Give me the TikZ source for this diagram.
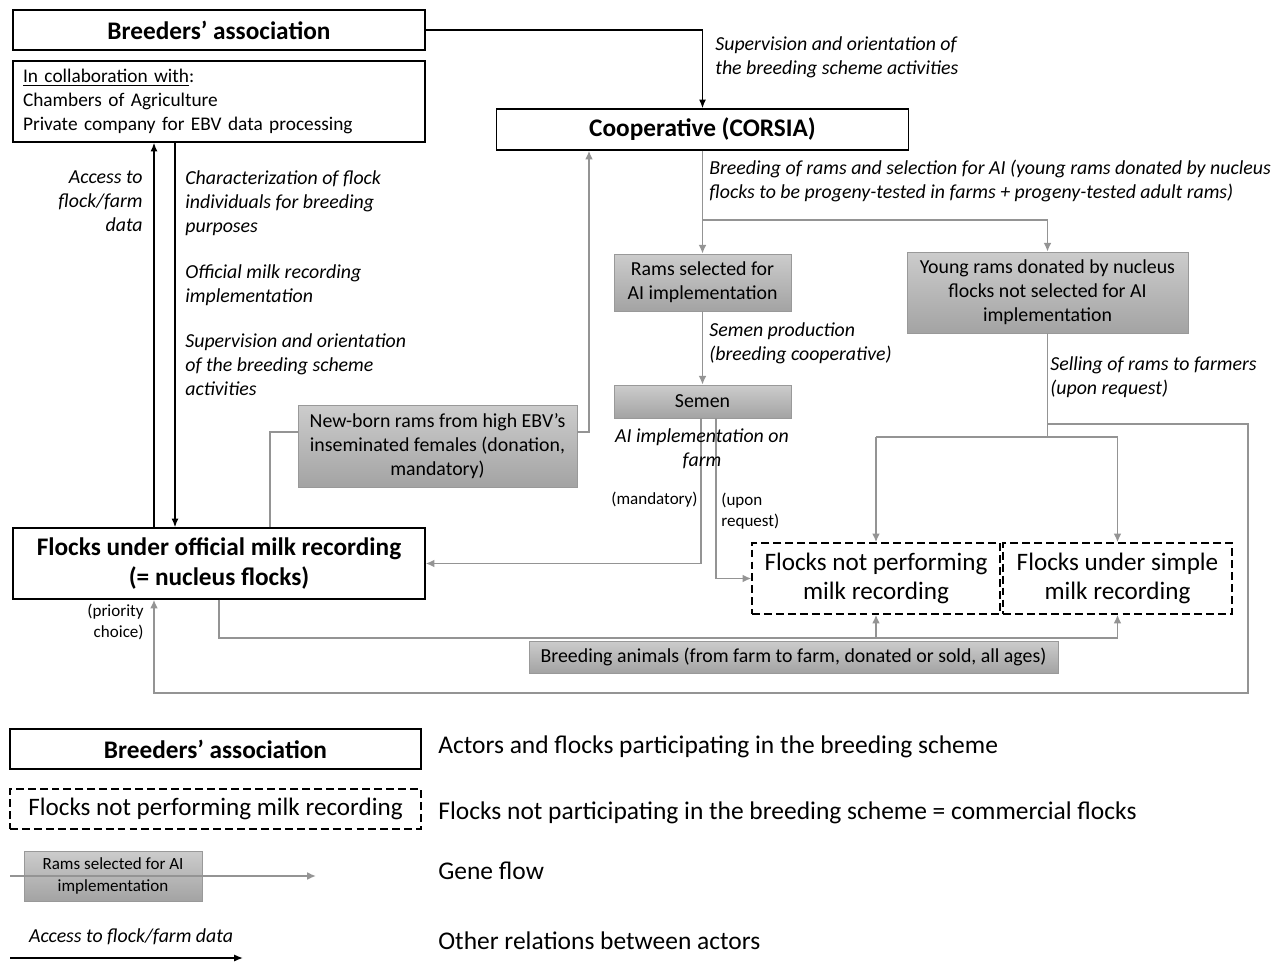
\documentclass[tikz,border=0pt]{standalone}
\usepackage{fontspec}
\setmainfont{Carlito}
\usetikzlibrary{arrows.meta}

\tikzset{
  actor/.style={draw, line width=0.8pt, align=center, inner sep=0pt, font=\fontsize{14.4}{17}\selectfont\bfseries},
  comflock/.style={draw, line width=0.8pt, dash pattern=on 4.5pt off 2.3pt, align=center, inner sep=0pt, font=\fontsize{14.3}{16.4}\selectfont},
  genebox/.style={draw=black!40, top color=black!20, bottom color=black!36, align=center, inner sep=0pt, font=\fontsize{11.3}{13.6}\selectfont},
  gene/.style={draw=black!42, line width=1.1pt, -{Latex[length=5pt,width=4.5pt]}},
  rel/.style={draw=black, line width=0.8pt, -{Latex[length=5pt,width=4pt]}},
  lbl/.style={font=\fontsize{11.3}{13.6}\selectfont\itshape, inner sep=0pt},
  note/.style={font=\fontsize{9.7}{12}\selectfont, inner sep=0pt},
  legtxt/.style={font=\fontsize{14.5}{16}\selectfont, inner sep=0pt, anchor=west}
}

\begin{document}
\begin{tikzpicture}[x=0.02cm,y=-0.02cm]
\useasboundingbox (0,0) rectangle (1277,962);

\draw (219,30) node[actor, minimum width=8.24cm, minimum height=0.8cm] (ba) {Breeders’ association};
\draw (219,101.5) node[draw, line width=0.8pt, text width=7.84cm, inner xsep=0.2cm, inner ysep=0pt, minimum height=1.62cm, align=left, font=\fontsize{11}{13.6}\selectfont] (collab) {\underline{In collaboration with}:\\Chambers of Agriculture\\Private company for EBV data processing};
\draw (702.5,129.5) node[actor, minimum width=8.24cm, minimum height=0.82cm] (coop) {Cooperative (CORSIA)};
\draw (219,563.5) node[actor, minimum width=8.24cm, minimum height=1.42cm] (flocks) {Flocks under official milk recording\\(= nucleus flocks)};

\draw (702.5,282.5) node[genebox, minimum width=3.54cm, minimum height=1.14cm] (rams) {Rams selected for\\AI implementation};
\draw (1047.5,292.5) node[genebox, minimum width=5.62cm, minimum height=1.62cm] (young) {Young rams donated by nucleus\\flocks not selected for AI\\implementation};
\draw (702.5,401.5) node[genebox, minimum width=3.54cm, minimum height=0.66cm] (semen) {Semen};
\draw (437.5,446) node[genebox, minimum width=5.58cm, minimum height=1.64cm] (newborn) {New-born rams from high EBV’s\\inseminated females (donation,\\mandatory)};
\draw (793.5,657) node[genebox, minimum width=10.58cm, minimum height=0.64cm] (breed) {Breeding animals (from farm to farm, donated or sold, all ages)};

\draw (876,578.5) node[comflock, minimum width=4.96cm, minimum height=1.42cm] (notrec) {Flocks not performing\\milk recording};
\draw (1117.5,578.5) node[comflock, minimum width=4.58cm, minimum height=1.42cm] (simple) {Flocks under simple\\milk recording};

\coordinate (x154) at (154,0);
\coordinate (x175) at (175,0);
\coordinate (x270) at (270,0);
\coordinate (x589) at (589,0);
\coordinate (x701) at (701,0);
\coordinate (x716) at (716,0);
\coordinate (split) at (702.5,220);
\coordinate (sell) at (1047.5,424);
\coordinate (spread) at (1047.5,437);
\coordinate (loopR) at (1248,424);
\coordinate (loopB) at (1248,693);
\coordinate (trade) at (219,638);

\draw[rel] (ba.east) -| (coop.north);
\draw[rel] (flocks.north -| x154) -- (collab.south -| x154);
\draw[rel] (collab.south -| x175) -- (flocks.north -| x175);
\draw[gene] (coop.south) -- (rams.north);
\draw[gene] (split) -| (young.north);
\draw[gene] (rams.south) -- (semen.north);
\draw[gene] (semen.south -| x701) |- (flocks.east);
\draw[gene] (semen.south -| x716) |- (notrec.west);
\draw[gene, -] (flocks.north -| x270) |- ([yshift=7.9pt]newborn.west);
\draw[gene] ([yshift=7.9pt]newborn.east) -| (coop.south -| x589);
\draw[gene, -] (young.south) -- (spread);
\draw[gene, -] (notrec.north |- spread) -- (simple.north |- spread);
\draw[gene] (notrec.north |- spread) -- (notrec.north);
\draw[gene] (simple.north |- spread) -- (simple.north);
\draw[gene] (sell) -- (loopR) -- (loopB) -| (flocks.south -| x154);
\draw[gene, -] (flocks.south) |- (simple.south |- trade);
\draw[gene] (notrec.south |- trade) -- (notrec.south);
\draw[gene] (simple.south |- trade) -- (simple.south);

\draw (715,57) node[lbl, anchor=west, align=left] (supcoop) {Supervision and orientation of\\the breeding scheme activities};
\draw (143,201) node[lbl, anchor=east, align=right] (acc) {Access to\\flock/farm\\data};
\draw (185,203) node[lbl, anchor=west, align=left] (charac) {Characterization of flock\\individuals for breeding\\purposes};
\draw (185,285) node[lbl, anchor=west, align=left] (offic) {Official milk recording\\implementation};
\draw (185,365) node[lbl, anchor=west, align=left] (supba) {Supervision and orientation\\of the breeding scheme\\activities};
\draw (709,181) node[lbl, anchor=west, align=left] (selec) {Breeding of rams and selection for AI (young rams donated by nucleus\\flocks to be progeny-tested in farms + progeny-tested adult rams)};
\draw (709,343) node[lbl, anchor=west, align=left] (semprod) {Semen production\\(breeding cooperative)};
\draw (1050,377) node[lbl, anchor=west, align=left] (selling) {Selling of rams to farmers\\(upon request)};
\draw (702,449) node[lbl, align=center] (aionfarm) {AI implementation on\\farm};
\draw (698,500) node[note, anchor=east] (mand) {(mandatory)};
\draw (721,511) node[note, anchor=west, align=left] (upon) {(upon\\request)};
\draw (144,622) node[note, anchor=east, align=right] (prio) {(priority\\choice)};

\draw (215.5,749) node[actor, minimum width=8.22cm, minimum height=0.8cm] (keyactor) {Breeders’ association};
\draw (215.5,809) node[comflock, minimum width=8.22cm, minimum height=0.8cm] (keyflock) {Flocks not performing milk recording};
\draw (113,876) node[genebox, minimum width=3.56cm, minimum height=1cm, font=\fontsize{9.7}{12.5}\selectfont] (keyrams) {Rams selected for AI\\implementation};
\coordinate (keygs) at (10,876);
\coordinate (keyge) at (316,876);
\draw[gene] (keygs) -- (keyge);
\draw (131,937) node[lbl] (keyacc) {Access to flock/farm data};
\coordinate (keyrs) at (10,958);
\coordinate (keyre) at (243,958);
\draw[rel] (keyrs) -- (keyre);

\draw (438,747) node[legtxt] (leg1) {Actors and flocks participating in the breeding scheme};
\draw (438,813) node[legtxt] (leg2) {Flocks not participating in the breeding scheme = commercial flocks};
\draw (438,871) node[legtxt] (leg3) {Gene flow};
\draw (438,941) node[legtxt] (leg4) {Other relations between actors};
\end{tikzpicture}
\end{document}
